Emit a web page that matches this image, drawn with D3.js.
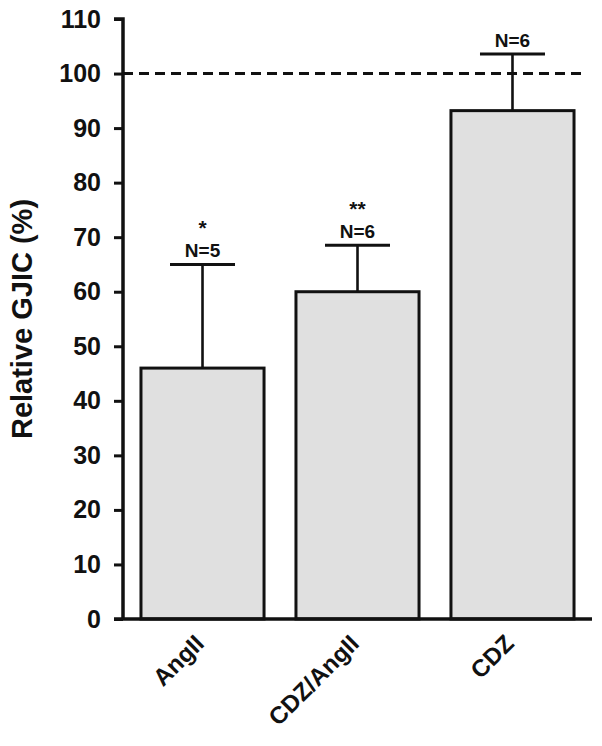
<!DOCTYPE html>
<html>
<head>
<meta charset="utf-8">
<script src="https://cdn.jsdelivr.net/npm/d3@7"></script>
<style>
  body { margin: 0; background: #fff; }
  svg text { font-family: 'Liberation Sans', Arial, sans-serif; font-weight: bold; fill: #111; }
</style>
</head>
<body>
<div id="chart"></div>
<script>
const categories = ['AngII', 'CDZ/AngII', 'CDZ']
const means = [46, 60, 93.2]
const errors = [19, 8.5, 10.4]
const nLabels = ['N=5', 'N=6', 'N=6']
const stars = ['*', '**', '']
const yTicks = d3.range(0, 111, 10)
const refLine = 100

const width = 602
const height = 746
const margin = { top: 19, left: 123, right: 10, bottom: 127 }

const svg = d3.select('#chart')
  .append('svg')
  .attr('width', width)
  .attr('height', height)

const y = d3.scaleLinear()
  .domain([0, 110])
  .range([height - margin.bottom, margin.top])

const x = d3.scaleBand()
  .domain(categories)
  .range([margin.left, 592])
  .paddingInner(0.206)
  .paddingOuter(0.116)

const ink = '#111'

// dashed reference line at 100 %
svg.append('line')
  .attr('x1', margin.left)
  .attr('x2', 582)
  .attr('y1', y(refLine))
  .attr('y2', y(refLine))
  .attr('stroke', ink)
  .attr('stroke-width', 3)
  .attr('stroke-dasharray', '10,6')

const groups = svg.append('g')
  .selectAll('g')
  .data(categories)
  .enter()
  .append('g')

// error bars (upper only)
groups.append('line')
  .attr('x1', d => x(d) + x.bandwidth() / 2)
  .attr('x2', d => x(d) + x.bandwidth() / 2)
  .attr('y1', (d, i) => y(means[i]))
  .attr('y2', (d, i) => y(means[i] + errors[i]))
  .attr('stroke', ink)
  .attr('stroke-width', 2.6)

groups.append('line')
  .attr('x1', d => x(d) + x.bandwidth() / 2 - 32.5)
  .attr('x2', d => x(d) + x.bandwidth() / 2 + 32.5)
  .attr('y1', (d, i) => y(means[i] + errors[i]))
  .attr('y2', (d, i) => y(means[i] + errors[i]))
  .attr('stroke', ink)
  .attr('stroke-width', 3)

groups.append('rect')
  .attr('x', d => x(d))
  .attr('y', (d, i) => y(means[i]))
  .attr('width', x.bandwidth())
  .attr('height', (d, i) => y(0) - y(means[i]))
  .attr('fill', '#e0e0e0')
  .attr('stroke', ink)
  .attr('stroke-width', 3)

groups.append('text')
  .attr('x', d => x(d) + x.bandwidth() / 2)
  .attr('y', (d, i) => y(means[i] + errors[i]) - 7)
  .attr('text-anchor', 'middle')
  .attr('font-size', 19)
  .text((d, i) => nLabels[i])

groups.append('text')
  .attr('x', d => x(d) + x.bandwidth() / 2)
  .attr('y', (d, i) => y(means[i] + errors[i]) - 29)
  .attr('text-anchor', 'middle')
  .attr('font-size', 21)
  .text((d, i) => stars[i])

// y axis
const yAxis = svg.append('g')
  .attr('transform', `translate(${margin.left},0)`)
  .call(d3.axisLeft(y).tickValues(yTicks).tickSize(9).tickPadding(13).tickSizeOuter(0))

yAxis.select('.domain')
  .attr('stroke', ink)
  .attr('stroke-width', 3.5)
  .attr('d', `M0,${y(0)}V${y(110)}H-9`)
yAxis.selectAll('.tick line').attr('stroke', ink).attr('stroke-width', 3)
yAxis.selectAll('.tick text')
  .attr('font-size', 25)
  .attr('fill', ink)

// x axis baseline
svg.append('line')
  .attr('x1', margin.left - 9)
  .attr('x2', 592)
  .attr('y1', y(0))
  .attr('y2', y(0))
  .attr('stroke', ink)
  .attr('stroke-width', 3.5)

svg.append('g')
  .selectAll('text')
  .data(categories)
  .enter()
  .append('text')
  .attr('transform', d => `translate(${x(d) + x.bandwidth() / 2 + 3},${y(0) + 26}) rotate(-45)`)
  .attr('text-anchor', 'end')
  .attr('font-size', 24)
  .text(d => d)

svg.append('text')
  .attr('transform', `translate(32,${(y(0) + y(110)) / 2}) rotate(-90)`)
  .attr('text-anchor', 'middle')
  .attr('font-size', 29)
  .text('Relative GJIC (%)')
</script>
</body>
</html>
